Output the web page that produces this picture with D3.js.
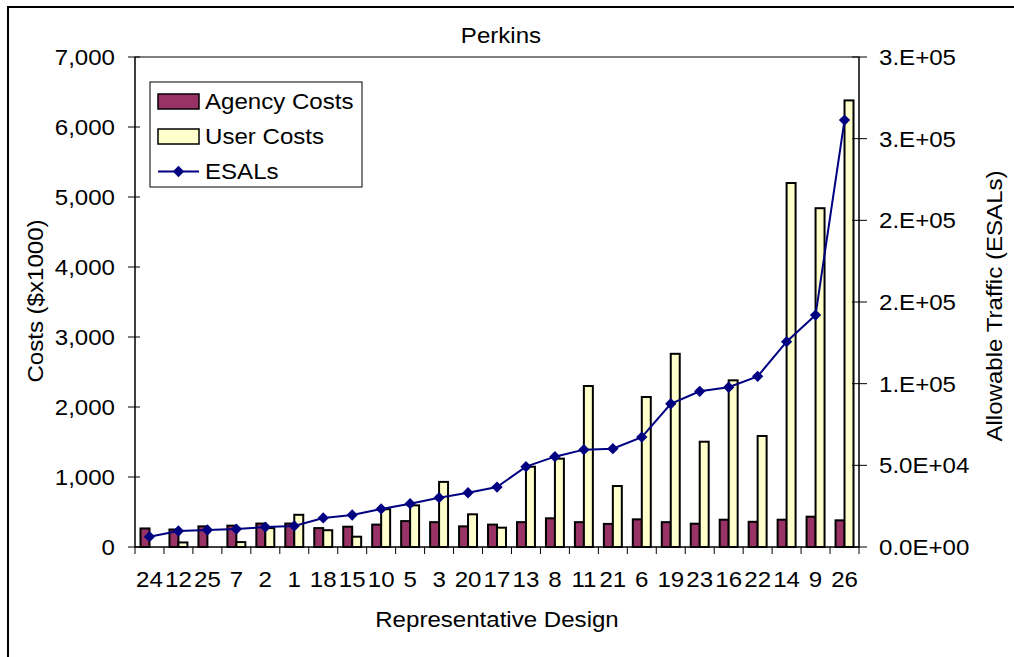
<!DOCTYPE html>
<html><head>
<meta charset="utf-8">
<title>Perkins</title>
<style>
  body {margin:0; background:#fff;}
  text {font-family:"Liberation Sans", Arial, sans-serif; fill:#000;}
</style>
</head>
<body>
<script src="https://d3js.org/d3.v7.min.js"></script>
<script>
// data
var designs = ["24","12","25","7","2","1","18","15","10","5","3","20","17","13","8","11","21","6","19","23","16","22","14","9","26"];
var agencyCosts = [265,250,295,305,335,335,270,290,320,370,355,295,320,355,410,355,330,395,355,333,390,360,390,433,381];
var userCosts = [0,65,0,70,270,460,240,147,540,595,930,467,276,1147,1262,2300,871,2143,2760,1504,2381,1586,5200,4840,6380];
var esals = [6300,9800,10400,11000,12200,12900,17800,19600,23300,26500,30200,33200,36700,49200,55300,59600,60200,67300,87700,95300,97800,104500,125700,142000,261400];
var costTicks = [0,1000,2000,3000,4000,5000,6000,7000];
var esalTicks = [0,50000,100000,150000,200000,250000,300000];
var esalTickLabels = ["0.0E+00","5.0E+04","1.E+05","2.E+05","2.E+05","3.E+05","3.E+05"];

var width = 1014, height = 657;
var pLeft = 135, pRight = 859, pTop = 57, pBottom = 547;
var fs = 22.5;
var sx = 1.07; // text in the picture is a bit wider than plain Arial

var svg = d3.select("body").append("svg")
    .attr("width", width)
    .attr("height", height);

// helper: text with slight horizontal stretch
function label(g, x, y, str, anchor, rot) {
    return g.append("text")
        .attr("transform", "translate(" + x + "," + y + ")" + (rot ? " rotate(" + rot + ")" : "") + " scale(" + sx + ",1)")
        .attr("text-anchor", anchor || "start")
        .attr("font-size", fs)
        .text(str);
}

// outer chart frame
svg.append("path")
    .attr("d", "M8,700 L8,7 L1100,7")
    .attr("fill", "none")
    .attr("stroke", "#000")
    .attr("stroke-width", 2);

var x = d3.scaleBand().domain(designs).range([pLeft, pRight]).padding(0);
var y = d3.scaleLinear().domain([0, 7000]).range([pBottom, pTop]);
var y2 = d3.scaleLinear().domain([0, 300000]).range([pBottom, pTop]);

var bw = x.bandwidth();
var barW = bw * 0.31;
var off = (bw - 2 * barW) / 2;

// plot area frame
svg.append("rect")
    .attr("x", pLeft).attr("y", pTop)
    .attr("width", pRight - pLeft).attr("height", pBottom - pTop)
    .attr("fill", "#fff").attr("stroke", "#000").attr("stroke-width", 1);

// agency bars
svg.selectAll("rect.agency")
    .data(agencyCosts)
    .enter().append("rect")
    .attr("class", "agency")
    .attr("x", function(d, i) { return x(designs[i]) + off; })
    .attr("y", function(d) { return y(d); })
    .attr("width", barW)
    .attr("height", function(d) { return pBottom - y(d); })
    .attr("fill", "#993366")
    .attr("stroke", "#000")
    .attr("stroke-width", 2);

// user bars
svg.selectAll("rect.user")
    .data(userCosts)
    .enter().append("rect")
    .attr("class", "user")
    .attr("x", function(d, i) { return x(designs[i]) + off + barW; })
    .attr("y", function(d) { return y(d); })
    .attr("width", barW)
    .attr("height", function(d) { return pBottom - y(d); })
    .attr("fill", "#FFFFCC")
    .attr("stroke", "#000")
    .attr("stroke-width", function(d) { return d > 0 ? 2 : 0; });

// ESALs line
var line = d3.line()
    .x(function(d, i) { return x(designs[i]) + bw / 2; })
    .y(function(d) { return y2(d); });

svg.append("path")
    .datum(esals)
    .attr("d", line)
    .attr("fill", "none")
    .attr("stroke", "#000080")
    .attr("stroke-width", 2);

var diamond = d3.symbol().type(d3.symbolSquare).size(64);
svg.selectAll("path.mk")
    .data(esals)
    .enter().append("path")
    .attr("class", "mk")
    .attr("d", diamond)
    .attr("transform", function(d, i) { return "translate(" + (x(designs[i]) + bw / 2) + "," + y2(d) + ") rotate(45)"; })
    .attr("fill", "#000080");

// left axis
var gl = svg.append("g");
gl.append("line").attr("x1", pLeft).attr("x2", pLeft).attr("y1", pTop).attr("y2", pBottom).attr("stroke", "#000");
gl.selectAll("line.t").data(costTicks).enter().append("line")
    .attr("x1", pLeft - 7).attr("x2", pLeft + 5)
    .attr("y1", function(d) { return y(d); }).attr("y2", function(d) { return y(d); })
    .attr("stroke", "#000");
costTicks.forEach(function(d) {
    label(gl, 115, y(d) + 8, d3.format(",")(d), "end");
});

// right axis
var gr = svg.append("g");
gr.append("line").attr("x1", pRight).attr("x2", pRight).attr("y1", pTop).attr("y2", pBottom).attr("stroke", "#000");
gr.selectAll("line.t").data(esalTicks).enter().append("line")
    .attr("x1", pRight - 7).attr("x2", pRight + 8)
    .attr("y1", function(d) { return y2(d); }).attr("y2", function(d) { return y2(d); })
    .attr("stroke", "#000");
esalTicks.forEach(function(d, i) {
    label(gr, 879, y2(d) + 8, esalTickLabels[i], "start");
});

// bottom axis
var gb = svg.append("g");
gb.append("line").attr("x1", pLeft).attr("x2", pRight).attr("y1", pBottom).attr("y2", pBottom).attr("stroke", "#000");
gb.selectAll("line.t").data(designs.concat([null])).enter().append("line")
    .attr("x1", function(d, i) { return pLeft + i * bw; })
    .attr("x2", function(d, i) { return pLeft + i * bw; })
    .attr("y1", pBottom).attr("y2", pBottom + 7)
    .attr("stroke", "#000");
designs.forEach(function(d) {
    label(gb, x(d) + bw / 2, 587, d, "middle");
});

// titles
label(svg, 501, 43, "Perkins", "middle");
label(svg, 497, 627, "Representative Design", "middle");
label(svg, 43, 301, "Costs ($x1000)", "middle", -90);
label(svg, 1002, 306, "Allowable Traffic (ESALs)", "middle", -90);

// legend
var lg = svg.append("g");
lg.append("rect").attr("x", 150).attr("y", 82).attr("width", 212).attr("height", 105)
    .attr("fill", "#fff").attr("stroke", "#000").attr("stroke-width", 1);
lg.append("rect").attr("x", 158).attr("y", 94).attr("width", 41).attr("height", 15)
    .attr("fill", "#993366").attr("stroke", "#000").attr("stroke-width", 1.5);
label(lg, 205, 109, "Agency Costs");
lg.append("rect").attr("x", 158).attr("y", 129).attr("width", 41).attr("height", 15)
    .attr("fill", "#FFFFCC").attr("stroke", "#000").attr("stroke-width", 1.5);
label(lg, 205, 144, "User Costs");
lg.append("line").attr("x1", 158).attr("x2", 199).attr("y1", 171.5).attr("y2", 171.5)
    .attr("stroke", "#000080").attr("stroke-width", 2);
lg.append("path").attr("d", diamond).attr("transform", "translate(178.5,171.5) rotate(45)").attr("fill", "#000080");
label(lg, 205, 179, "ESALs");
</script>
</body></html>
